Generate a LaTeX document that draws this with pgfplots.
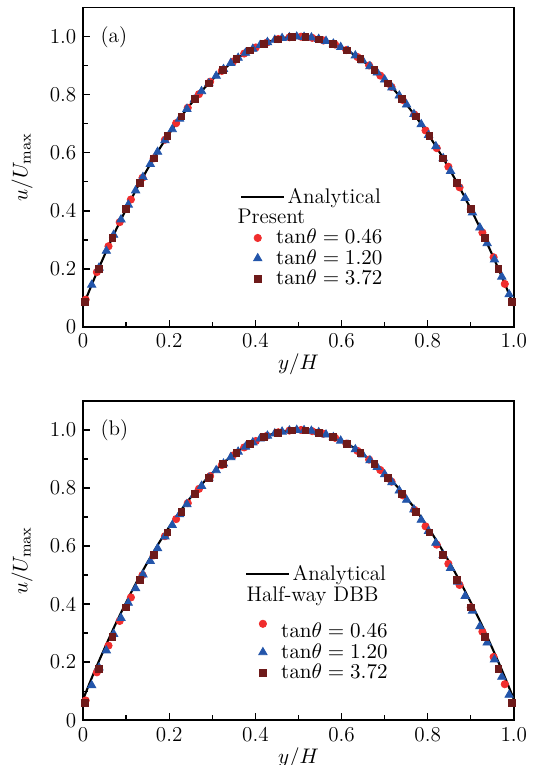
\documentclass[border=0pt]{standalone}
\usepackage{pgfplots}
\pgfplotsset{compat=1.18}
\definecolor{cred}{RGB}{240,45,45}
\definecolor{cblue}{RGB}{35,85,170}
\definecolor{cdark}{RGB}{110,26,26}

% Analytical profile (same in both panels)
\pgfplotstableread{
x y
0.000 0.072
0.025 0.163
0.050 0.248
0.075 0.330
0.100 0.406
0.125 0.478
0.150 0.545
0.175 0.608
0.200 0.666
0.225 0.719
0.250 0.768
0.275 0.812
0.300 0.852
0.325 0.886
0.350 0.916
0.375 0.942
0.400 0.963
0.425 0.979
0.450 0.991
0.475 0.998
0.500 1.000
0.525 0.998
0.550 0.991
0.575 0.979
0.600 0.963
0.625 0.942
0.650 0.916
0.675 0.886
0.700 0.852
0.725 0.812
0.750 0.768
0.775 0.719
0.800 0.666
0.825 0.608
0.850 0.545
0.875 0.478
0.900 0.406
0.925 0.330
0.950 0.248
0.975 0.163
1.000 0.072
}\anal

% panel (a): tan=0.46 (circles)
\pgfplotstableread{
x y
0.006 0.094
0.032 0.189
0.059 0.278
0.085 0.361
0.111 0.439
0.138 0.514
0.164 0.581
0.190 0.645
0.216 0.702
0.243 0.755
0.269 0.802
0.295 0.845
0.322 0.882
0.348 0.914
0.374 0.942
0.401 0.963
0.427 0.980
0.453 0.992
0.479 0.998
0.506 1.000
0.532 0.996
0.558 0.987
0.585 0.973
0.611 0.954
0.637 0.930
0.664 0.901
0.690 0.866
0.716 0.827
0.742 0.782
0.769 0.732
0.795 0.677
0.821 0.616
0.848 0.552
0.874 0.481
0.900 0.406
0.927 0.325
0.953 0.240
0.979 0.148
}\aR

% panel (a): tan=1.20 (triangles)
\pgfplotstableread{
x y
0.020 0.145
0.037 0.204
0.054 0.262
0.071 0.317
0.088 0.370
0.105 0.421
0.122 0.470
0.139 0.516
0.156 0.561
0.173 0.603
0.190 0.643
0.207 0.681
0.224 0.717
0.241 0.751
0.258 0.783
0.275 0.812
0.292 0.839
0.309 0.865
0.326 0.888
0.343 0.909
0.360 0.927
0.377 0.944
0.394 0.958
0.411 0.971
0.428 0.981
0.445 0.989
0.462 0.995
0.479 0.998
0.496 1.000
0.513 0.999
0.530 0.997
0.547 0.992
0.564 0.985
0.581 0.976
0.598 0.964
0.615 0.951
0.632 0.935
0.649 0.918
0.666 0.898
0.683 0.876
0.700 0.852
0.717 0.825
0.734 0.797
0.751 0.766
0.768 0.733
0.785 0.698
0.802 0.661
0.819 0.622
0.836 0.581
0.853 0.537
0.870 0.492
0.887 0.444
0.904 0.394
0.921 0.342
0.938 0.288
0.955 0.232
0.972 0.173
0.989 0.112
}\aB

% panel (a): tan=3.72 (squares)
\pgfplotstableread{
x y
0.004 0.087
0.036 0.201
0.068 0.307
0.100 0.406
0.132 0.497
0.164 0.581
0.196 0.657
0.228 0.725
0.260 0.786
0.292 0.839
0.324 0.885
0.356 0.923
0.388 0.953
0.420 0.976
0.452 0.991
0.484 0.999
0.516 0.999
0.548 0.991
0.580 0.976
0.612 0.953
0.644 0.923
0.676 0.885
0.708 0.839
0.740 0.786
0.772 0.725
0.804 0.657
0.836 0.581
0.868 0.497
0.900 0.406
0.932 0.307
0.964 0.201
0.996 0.087
}\aS

% panel (b): tan=0.46 (circles)
\pgfplotstableread{
x y
0.006 0.068
0.032 0.165
0.059 0.257
0.085 0.342
0.111 0.423
0.138 0.500
0.164 0.568
0.190 0.634
0.216 0.693
0.243 0.748
0.269 0.797
0.295 0.841
0.322 0.879
0.348 0.912
0.374 0.940
0.401 0.962
0.427 0.980
0.453 0.992
0.479 0.998
0.506 1.000
0.532 0.996
0.558 0.987
0.585 0.973
0.611 0.953
0.637 0.928
0.664 0.898
0.690 0.862
0.716 0.822
0.742 0.775
0.769 0.725
0.795 0.668
0.821 0.605
0.848 0.539
0.874 0.466
0.900 0.389
0.927 0.305
0.953 0.218
0.979 0.124
}\bR

% panel (b): tan=1.20 (triangles)
\pgfplotstableread{
x y
0.020 0.120
0.037 0.181
0.054 0.240
0.071 0.297
0.088 0.352
0.105 0.404
0.122 0.454
0.139 0.502
0.156 0.548
0.173 0.592
0.190 0.633
0.207 0.672
0.224 0.709
0.241 0.744
0.258 0.776
0.275 0.807
0.292 0.835
0.309 0.861
0.326 0.884
0.343 0.906
0.360 0.925
0.377 0.942
0.394 0.957
0.411 0.970
0.428 0.980
0.445 0.988
0.462 0.994
0.479 0.998
0.496 1.000
0.513 0.999
0.530 0.997
0.547 0.992
0.564 0.984
0.581 0.975
0.598 0.963
0.615 0.949
0.632 0.933
0.649 0.915
0.666 0.895
0.683 0.872
0.700 0.847
0.717 0.820
0.734 0.791
0.751 0.759
0.768 0.726
0.785 0.690
0.802 0.652
0.819 0.611
0.836 0.569
0.853 0.524
0.870 0.477
0.887 0.428
0.904 0.377
0.921 0.323
0.938 0.267
0.955 0.209
0.972 0.149
0.989 0.087
}\bB

% panel (b): tan=3.72 (squares)
\pgfplotstableread{
x y
0.004 0.060
0.036 0.178
0.068 0.287
0.100 0.389
0.132 0.483
0.164 0.569
0.196 0.647
0.228 0.717
0.260 0.780
0.292 0.835
0.324 0.882
0.356 0.921
0.388 0.952
0.420 0.976
0.452 0.991
0.484 0.999
0.516 0.999
0.548 0.991
0.580 0.976
0.612 0.952
0.644 0.921
0.676 0.882
0.708 0.835
0.740 0.780
0.772 0.717
0.804 0.647
0.836 0.569
0.868 0.483
0.900 0.389
0.932 0.287
0.964 0.178
0.996 0.060
}\bS

\pgfplotsset{
  myaxis/.style={
    scale only axis, width=224pt, height=166pt,
    xmin=0, xmax=1, ymin=0, ymax=1.1,
    font=\fontsize{11pt}{13pt}\selectfont,
    axis line style={line width=0.8pt},
    xtick={0,0.2,0.4,0.6,0.8,1.0},
    xticklabels={0,0.2,0.4,0.6,0.8,1.0},
    ytick={0,0.2,0.4,0.6,0.8,1.0},
    yticklabels={0,0.2,0.4,0.6,0.8,1.0},
    minor x tick num=1, minor y tick num=1,
    tick align=inside, xtick pos=bottom, ytick pos=left,
    major tick length=3.5pt, minor tick length=2.5pt,
    tick style={line width=0.7pt, black},
    xlabel={$y/H$}, ylabel={$u/U_{\max}$},
    xlabel style={yshift=4pt},
    ylabel style={yshift=2pt},
    legend cell align=left,
    legend style={draw=none, fill=none, inner sep=0pt, row sep=-1.5pt,
      font=\fontsize{11pt}{13pt}\selectfont,
      nodes={inner sep=1.5pt}},
  },
  anal/.style={black, line width=1.1pt, smooth, no marks,
    legend image code/.code={\draw[black, line width=1.1pt] (0pt,0pt) -- (22pt,0pt);}},
  pR/.style={only marks, mark=*, mark size=1.9pt, color=cred, mark options={draw=cred, fill=cred}},
  pB/.style={only marks, mark=triangle*, mark size=2.5pt, color=cblue, mark options={draw=cblue, fill=cblue}},
  pS/.style={only marks, mark=square*, mark size=1.75pt, color=cdark, mark options={draw=cdark, fill=cdark}},
}

\begin{document}
\begin{tikzpicture}
\useasboundingbox (-43.2pt,-227.8pt) rectangle (239.7pt,170pt);
\begin{axis}[myaxis, at={(0pt,0pt)}, anchor=south west,
  legend style={at={(rel axis cs:0.364,0.445)}, anchor=north west}]
\addplot[anal] table {\anal};
\addlegendentry{Analytical}
\addlegendimage{empty legend}
\addlegendentry{\hspace*{-26pt}Present}
\addplot[pR] table {\aR};
\addlegendentry{\hspace*{-6pt}$\mathrm{tan}\theta = 0.46$}
\addplot[pB] table {\aB};
\addlegendentry{\hspace*{-6pt}$\mathrm{tan}\theta = 1.20$}
\addplot[pS] table {\aS};
\addlegendentry{\hspace*{-6pt}$\mathrm{tan}\theta = 3.72$}
\node[anchor=west, font=\fontsize{11pt}{13pt}\selectfont] at (rel axis cs:0.025,0.907) {(a)};
\end{axis}
\begin{axis}[myaxis, at={(0pt,-204.5pt)}, anchor=south west,
  legend style={at={(rel axis cs:0.376,0.495)}, anchor=north west}]
\addplot[anal] table {\anal};
\addlegendentry{Analytical}
\addlegendimage{empty legend}
\addlegendentry{\hspace*{-24pt}Half-way DBB}
\addplot[pR] table {\bR};
\addlegendentry{\hspace*{-6pt}\rule{0pt}{16pt}$\mathrm{tan}\theta = 0.46$}
\addplot[pB] table {\bB};
\addlegendentry{\hspace*{-6pt}$\mathrm{tan}\theta = 1.20$}
\addplot[pS] table {\bS};
\addlegendentry{\hspace*{-6pt}$\mathrm{tan}\theta = 3.72$}
\node[anchor=west, font=\fontsize{11pt}{13pt}\selectfont] at (rel axis cs:0.025,0.907) {(b)};
\end{axis}
\end{tikzpicture}
\end{document}
